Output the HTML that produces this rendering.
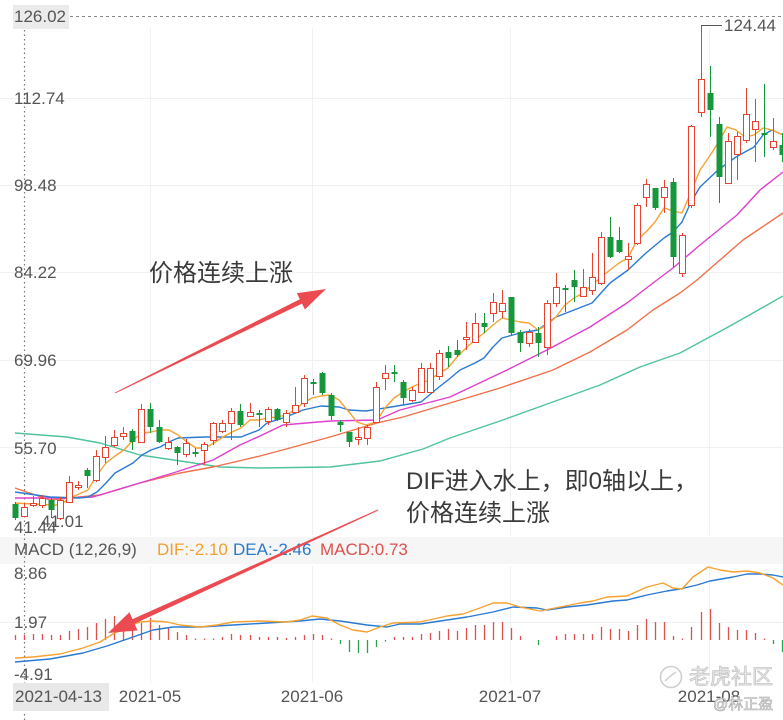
<!DOCTYPE html>
<html><head><meta charset="utf-8"><style>
html,body{margin:0;padding:0;background:#fff;}
svg{display:block;}
text{font-family:"Liberation Sans","Noto Sans CJK SC",sans-serif;}
</style></head><body>
<svg width="783" height="720" viewBox="0 0 783 720" xmlns="http://www.w3.org/2000/svg">
<rect width="783" height="720" fill="#fff"/>
<!-- grid -->
<g stroke="#f1f1f1" stroke-width="1">
<line x1="0" y1="98.5" x2="783" y2="98.5"/><line x1="0" y1="185.5" x2="783" y2="185.5"/>
<line x1="0" y1="272.5" x2="783" y2="272.5"/><line x1="0" y1="360.5" x2="783" y2="360.5"/>
<line x1="0" y1="447.5" x2="783" y2="447.5"/>
<line x1="0" y1="622.5" x2="783" y2="622.5"/>
<line x1="150.5" y1="28" x2="150.5" y2="535"/><line x1="312.5" y1="28" x2="312.5" y2="535"/>
<line x1="510.5" y1="28" x2="510.5" y2="535"/><line x1="709.5" y1="28" x2="709.5" y2="535"/>
<line x1="150.5" y1="566" x2="150.5" y2="683"/><line x1="312.5" y1="566" x2="312.5" y2="683"/>
<line x1="510.5" y1="566" x2="510.5" y2="683"/><line x1="709.5" y1="566" x2="709.5" y2="683"/>
</g>
<!-- MACD header band -->
<rect x="0" y="537" width="783" height="27" fill="#f6f6f6"/>
<!-- crosshair -->
<line x1="24.5" y1="30" x2="24.5" y2="720" stroke="#777" stroke-width="1.2" stroke-dasharray="1.5,3"/>
<line x1="70" y1="16.5" x2="783" y2="16.5" stroke="#888" stroke-width="1" stroke-dasharray="3,3"/>

<!-- moving averages -->
<g fill="none" stroke-width="1.4" stroke-linejoin="round">
<polyline stroke="#4fc49a" points="15,433 67,437 100,443 140,455 187,462 220,467 260,468 330,467 380,461 423,449 450,438 500,421 550,403 600,385 640,367 680,353 730,326 783,296"/>
<polyline stroke="#f0704a" points="15,488 50,500 100,495 140,483 180,473 213,467 260,456 290,448 330,437 377,423 403,417 450,403 500,388 553,370 590,352 627,330 653,310 680,293 697,280 743,240 783,213"/>
<polyline stroke="#e03fce" points="15,498 67,498 93,497 133,485 173,473 213,460 240,445 260,436 283,425 330,421 377,420 400,410 450,397 507,370 547,350 590,327 627,303 653,283 673,268 700,245 737,215 760,190 783,172"/>
<polyline stroke="#2a7ad2" points="15,492 50,497 79,498 88,497 97,492 106,483 115,473 133,463 142,455 151,450 160,447 169,442 178,438 205,437 241,437 259,430 267,423 286,417 303,410 321,406 339,407 349,410 366,411 385,408 403,405 421,402 439,387 448,380 460,370 475,363 484,358 493,347 502,338 520,333 538,330 556,317 574,310 592,303 610,283 628,270 646,253 664,238 673,232 682,222 691,202 700,187 718,170 736,157 754,147 763,135 772,130 783,135"/>
<polyline stroke="#f5a231" points="15,503 33,504 51,505 60,505 70,498 79,494 88,490 97,475 106,463 115,456 124,450 133,440 142,433 151,432 160,430 169,430 178,435 187,442 196,448 205,448 214,443 223,437 232,432 241,428 250,420 259,420 267,418 277,417 286,415 295,410 303,403 312,398 321,396 330,395 339,400 349,412 357,422 366,425 376,422 385,408 394,398 403,392 412,387 421,383 430,380 439,373 448,368 457,357 466,348 475,340 484,333 493,325 502,318 511,320 520,322 529,323 538,330 547,325 556,317 565,305 574,298 583,293 592,285 601,277 610,270 619,263 628,258 637,240 646,232 655,222 664,208 673,211 682,213 691,192 700,170 709,157 718,143 727,127 736,130 745,137 754,135 763,128 772,130 783,135"/>
</g>

<!-- candles: wicks -->
<g stroke-width="1" shape-rendering="crispEdges">
<g stroke="#17973c">
<line x1="15.5" y1="502" x2="15.5" y2="520"/><line x1="51.5" y1="497" x2="51.5" y2="518"/><line x1="87.5" y1="468" x2="87.5" y2="488"/><line x1="132.5" y1="429" x2="132.5" y2="450"/><line x1="150.5" y1="403" x2="150.5" y2="433"/><line x1="159.5" y1="420" x2="159.5" y2="443"/><line x1="177.5" y1="446" x2="177.5" y2="465"/><line x1="195.5" y1="448" x2="195.5" y2="457"/><line x1="240.5" y1="404" x2="240.5" y2="427"/><line x1="259.5" y1="410" x2="259.5" y2="427"/><line x1="277.5" y1="408" x2="277.5" y2="421"/><line x1="313.5" y1="379" x2="313.5" y2="395"/><line x1="322.5" y1="372" x2="322.5" y2="395"/><line x1="331.5" y1="393" x2="331.5" y2="420"/><line x1="340.5" y1="420" x2="340.5" y2="432"/><line x1="349.5" y1="432" x2="349.5" y2="447"/><line x1="394.5" y1="365" x2="394.5" y2="382"/><line x1="403.5" y1="380" x2="403.5" y2="405"/><line x1="448.5" y1="346" x2="448.5" y2="367"/><line x1="457.5" y1="340" x2="457.5" y2="357"/><line x1="484.5" y1="313" x2="484.5" y2="333"/><line x1="511.5" y1="297" x2="511.5" y2="335"/><line x1="520.5" y1="330" x2="520.5" y2="352"/><line x1="538.5" y1="327" x2="538.5" y2="357"/><line x1="565.5" y1="285" x2="565.5" y2="312"/><line x1="574.5" y1="270" x2="574.5" y2="302"/><line x1="610.5" y1="217" x2="610.5" y2="258"/><line x1="619.5" y1="227" x2="619.5" y2="253"/><line x1="655.5" y1="188" x2="655.5" y2="210"/><line x1="673.5" y1="178" x2="673.5" y2="267"/><line x1="710.5" y1="66" x2="710.5" y2="137"/><line x1="719.5" y1="117" x2="719.5" y2="203"/><line x1="764.5" y1="84" x2="764.5" y2="157"/><line x1="782.5" y1="133" x2="782.5" y2="162"/>
</g>
<g stroke="#e5432f">
<line x1="24.5" y1="503" x2="24.5" y2="517"/><line x1="33.5" y1="496" x2="33.5" y2="507"/><line x1="42.5" y1="495" x2="42.5" y2="508"/><line x1="60.5" y1="497" x2="60.5" y2="520"/><line x1="69.5" y1="476" x2="69.5" y2="503"/><line x1="78.5" y1="481" x2="78.5" y2="490"/><line x1="96.5" y1="450" x2="96.5" y2="482"/><line x1="105.5" y1="436" x2="105.5" y2="463"/><line x1="114.5" y1="430" x2="114.5" y2="447"/><line x1="123.5" y1="427" x2="123.5" y2="440"/><line x1="141.5" y1="404" x2="141.5" y2="443"/><line x1="168.5" y1="437" x2="168.5" y2="450"/><line x1="186.5" y1="439" x2="186.5" y2="457"/><line x1="204.5" y1="442" x2="204.5" y2="465"/><line x1="213.5" y1="422" x2="213.5" y2="445"/><line x1="222.5" y1="420" x2="222.5" y2="433"/><line x1="231.5" y1="408" x2="231.5" y2="440"/><line x1="250.5" y1="403" x2="250.5" y2="417"/><line x1="268.5" y1="407" x2="268.5" y2="425"/><line x1="286.5" y1="410" x2="286.5" y2="427"/><line x1="295.5" y1="387" x2="295.5" y2="413"/><line x1="304.5" y1="375" x2="304.5" y2="407"/><line x1="358.5" y1="427" x2="358.5" y2="445"/><line x1="367.5" y1="425" x2="367.5" y2="445"/><line x1="376.5" y1="382" x2="376.5" y2="423"/><line x1="385.5" y1="365" x2="385.5" y2="390"/><line x1="412.5" y1="387" x2="412.5" y2="402"/><line x1="421.5" y1="363" x2="421.5" y2="393"/><line x1="430.5" y1="363" x2="430.5" y2="393"/><line x1="439.5" y1="350" x2="439.5" y2="380"/><line x1="466.5" y1="322" x2="466.5" y2="350"/><line x1="475.5" y1="313" x2="475.5" y2="343"/><line x1="493.5" y1="293" x2="493.5" y2="322"/><line x1="502.5" y1="290" x2="502.5" y2="318"/><line x1="529.5" y1="329" x2="529.5" y2="347"/><line x1="547.5" y1="300" x2="547.5" y2="355"/><line x1="556.5" y1="273" x2="556.5" y2="307"/><line x1="583.5" y1="269" x2="583.5" y2="297"/><line x1="592.5" y1="253" x2="592.5" y2="295"/><line x1="601.5" y1="232" x2="601.5" y2="285"/><line x1="628.5" y1="243" x2="628.5" y2="270"/><line x1="637.5" y1="203" x2="637.5" y2="245"/><line x1="646.5" y1="179" x2="646.5" y2="207"/><line x1="664.5" y1="180" x2="664.5" y2="213"/><line x1="682.5" y1="233" x2="682.5" y2="277"/><line x1="691.5" y1="125" x2="691.5" y2="208"/><line x1="701.5" y1="25" x2="701.5" y2="117"/><line x1="728.5" y1="133" x2="728.5" y2="184"/><line x1="737.5" y1="132" x2="737.5" y2="180"/><line x1="746.5" y1="88" x2="746.5" y2="143"/><line x1="755.5" y1="99" x2="755.5" y2="162"/><line x1="773.5" y1="118" x2="773.5" y2="150"/>
</g>
</g>
<!-- candle bodies green -->
<g fill="#17973c" shape-rendering="crispEdges">
<rect x="12.5" y="504" width="6" height="14"/><rect x="48.5" y="500" width="6" height="10"/><rect x="84.5" y="470" width="6" height="6"/><rect x="129.5" y="431" width="6" height="11"/><rect x="147.5" y="409" width="6" height="18"/><rect x="156.5" y="427" width="6" height="15"/><rect x="174.5" y="447" width="6" height="6"/><rect x="192.5" y="452" width="6" height="2"/><rect x="237.5" y="411" width="6" height="14"/><rect x="256.5" y="413" width="6" height="2"/><rect x="274.5" y="409" width="6" height="11"/><rect x="310.5" y="382" width="6" height="2"/><rect x="319.5" y="373" width="6" height="20"/><rect x="328.5" y="395" width="6" height="21"/><rect x="337.5" y="422" width="6" height="3"/><rect x="346.5" y="432" width="6" height="10"/><rect x="391.5" y="372" width="6" height="2"/><rect x="400.5" y="382" width="6" height="16"/><rect x="445.5" y="352" width="6" height="6"/><rect x="454.5" y="350" width="6" height="5"/><rect x="481.5" y="323" width="6" height="4"/><rect x="508.5" y="297" width="6" height="36"/><rect x="517.5" y="332" width="6" height="11"/><rect x="535.5" y="333" width="6" height="10"/><rect x="562.5" y="288" width="6" height="2"/><rect x="571.5" y="280" width="6" height="7"/><rect x="607.5" y="237" width="6" height="20"/><rect x="616.5" y="240" width="6" height="12"/><rect x="652.5" y="188" width="6" height="20"/><rect x="670.5" y="182" width="6" height="75"/><rect x="707.5" y="93" width="6" height="17"/><rect x="716.5" y="124" width="6" height="53"/><rect x="761.5" y="133" width="6" height="2"/><rect x="779.5" y="145" width="6" height="10"/>
</g>
<!-- candle bodies red hollow -->
<g fill="#fff" stroke="#e5432f" stroke-width="1" shape-rendering="crispEdges" transform="translate(-0.5,0.5)">
<rect x="22" y="507" width="6" height="9"/><rect x="31" y="503" width="6" height="2"/><rect x="40" y="498" width="6" height="7"/><rect x="58" y="500" width="6" height="18"/><rect x="67" y="482" width="6" height="20"/><rect x="76" y="485" width="6" height="2"/><rect x="94" y="456" width="6" height="24"/><rect x="103" y="447" width="6" height="10"/><rect x="112" y="437" width="6" height="8"/><rect x="121" y="433" width="6" height="3"/><rect x="139" y="409" width="6" height="33"/><rect x="166" y="442" width="6" height="6"/><rect x="184" y="443" width="6" height="11"/><rect x="202" y="444" width="6" height="6"/><rect x="211" y="423" width="6" height="17"/><rect x="220" y="423" width="6" height="8"/><rect x="229" y="411" width="6" height="12"/><rect x="248" y="412" width="6" height="4"/><rect x="266" y="409" width="6" height="12"/><rect x="284" y="413" width="6" height="9"/><rect x="293" y="405" width="6" height="7"/><rect x="302" y="378" width="6" height="25"/><rect x="356" y="437" width="6" height="2"/><rect x="365" y="427" width="6" height="11"/><rect x="374" y="387" width="6" height="35"/><rect x="383" y="373" width="6" height="5"/><rect x="410" y="390" width="6" height="10"/><rect x="419" y="368" width="6" height="24"/><rect x="428" y="368" width="6" height="24"/><rect x="437" y="353" width="6" height="23"/><rect x="464" y="337" width="6" height="2"/><rect x="473" y="323" width="6" height="19"/><rect x="491" y="302" width="6" height="11"/><rect x="500" y="303" width="6" height="8"/><rect x="527" y="332" width="6" height="11"/><rect x="545" y="303" width="6" height="44"/><rect x="554" y="287" width="6" height="16"/><rect x="581" y="287" width="6" height="9"/><rect x="590" y="277" width="6" height="13"/><rect x="599" y="237" width="6" height="46"/><rect x="626" y="256" width="6" height="3"/><rect x="635" y="205" width="6" height="38"/><rect x="644" y="184" width="6" height="13"/><rect x="662" y="187" width="6" height="10"/><rect x="680" y="235" width="6" height="38"/><rect x="689" y="126" width="6" height="79"/><rect x="699" y="79" width="6" height="33"/><rect x="726" y="141" width="6" height="42"/><rect x="735" y="136" width="6" height="18"/><rect x="744" y="114" width="6" height="26"/><rect x="753" y="121" width="6" height="8"/><rect x="771" y="141" width="6" height="6"/>
</g>

<!-- max label -->
<polyline points="701.5,26 701.5,25.5 722,25.5" fill="none" stroke="#555" stroke-width="1"/>
<text x="724" y="31" font-size="17" fill="#555">124.44</text>

<!-- MACD histogram -->
<g stroke="#e05050" stroke-width="1.3">
<line x1="15.5" y1="640" x2="15.5" y2="635"/><line x1="24.5" y1="640" x2="24.5" y2="635"/><line x1="33.5" y1="640" x2="33.5" y2="634"/><line x1="42.5" y1="640" x2="42.5" y2="634"/><line x1="51.5" y1="640" x2="51.5" y2="635"/><line x1="60.5" y1="640" x2="60.5" y2="635"/><line x1="69.5" y1="640" x2="69.5" y2="631"/><line x1="78.5" y1="640" x2="78.5" y2="629"/><line x1="87.5" y1="640" x2="87.5" y2="627"/><line x1="96.5" y1="640" x2="96.5" y2="623"/><line x1="105.5" y1="640" x2="105.5" y2="619"/><line x1="114.5" y1="640" x2="114.5" y2="616"/><line x1="123.5" y1="640" x2="123.5" y2="620"/><line x1="132.5" y1="640" x2="132.5" y2="623"/><line x1="141.5" y1="640" x2="141.5" y2="623"/><line x1="150.5" y1="640" x2="150.5" y2="618"/><line x1="159.5" y1="640" x2="159.5" y2="625"/><line x1="168.5" y1="640" x2="168.5" y2="627"/><line x1="177.5" y1="640" x2="177.5" y2="632"/><line x1="186.5" y1="640" x2="186.5" y2="635"/><line x1="195.5" y1="640" x2="195.5" y2="638.5"/><line x1="204.5" y1="640" x2="204.5" y2="638.5"/><line x1="213.5" y1="640" x2="213.5" y2="638.5"/><line x1="222.5" y1="640" x2="222.5" y2="637"/><line x1="231.5" y1="640" x2="231.5" y2="634"/><line x1="240.5" y1="640" x2="240.5" y2="635"/><line x1="250.5" y1="640" x2="250.5" y2="635"/><line x1="259.5" y1="640" x2="259.5" y2="637"/><line x1="268.5" y1="640" x2="268.5" y2="637"/><line x1="277.5" y1="640" x2="277.5" y2="637"/><line x1="286.5" y1="640" x2="286.5" y2="638"/><line x1="295.5" y1="640" x2="295.5" y2="637"/><line x1="304.5" y1="640" x2="304.5" y2="635"/><line x1="313.5" y1="640" x2="313.5" y2="634"/><line x1="322.5" y1="640" x2="322.5" y2="635"/><line x1="331.5" y1="640" x2="331.5" y2="638.5"/><line x1="394.5" y1="640" x2="394.5" y2="637"/><line x1="403.5" y1="640" x2="403.5" y2="637"/><line x1="412.5" y1="640" x2="412.5" y2="637"/><line x1="421.5" y1="640" x2="421.5" y2="634"/><line x1="430.5" y1="640" x2="430.5" y2="633"/><line x1="439.5" y1="640" x2="439.5" y2="631"/><line x1="448.5" y1="640" x2="448.5" y2="629"/><line x1="457.5" y1="640" x2="457.5" y2="631"/><line x1="466.5" y1="640" x2="466.5" y2="628"/><line x1="475.5" y1="640" x2="475.5" y2="625"/><line x1="484.5" y1="640" x2="484.5" y2="625"/><line x1="493.5" y1="640" x2="493.5" y2="622"/><line x1="502.5" y1="640" x2="502.5" y2="622"/><line x1="511.5" y1="640" x2="511.5" y2="628"/><line x1="520.5" y1="640" x2="520.5" y2="636"/><line x1="556.5" y1="640" x2="556.5" y2="636"/><line x1="565.5" y1="640" x2="565.5" y2="634"/><line x1="574.5" y1="640" x2="574.5" y2="634"/><line x1="583.5" y1="640" x2="583.5" y2="634"/><line x1="592.5" y1="640" x2="592.5" y2="634"/><line x1="601.5" y1="640" x2="601.5" y2="627"/><line x1="610.5" y1="640" x2="610.5" y2="629"/><line x1="619.5" y1="640" x2="619.5" y2="629"/><line x1="628.5" y1="640" x2="628.5" y2="631"/><line x1="637.5" y1="640" x2="637.5" y2="625"/><line x1="646.5" y1="640" x2="646.5" y2="619"/><line x1="655.5" y1="640" x2="655.5" y2="622"/><line x1="664.5" y1="640" x2="664.5" y2="622"/><line x1="673.5" y1="640" x2="673.5" y2="636"/><line x1="682.5" y1="640" x2="682.5" y2="638.5"/><line x1="691.5" y1="640" x2="691.5" y2="627"/><line x1="701.5" y1="640" x2="701.5" y2="612"/><line x1="710.5" y1="640" x2="710.5" y2="609"/><line x1="719.5" y1="640" x2="719.5" y2="623"/><line x1="728.5" y1="640" x2="728.5" y2="627"/><line x1="737.5" y1="640" x2="737.5" y2="630"/><line x1="746.5" y1="640" x2="746.5" y2="630"/><line x1="755.5" y1="640" x2="755.5" y2="633"/><line x1="764.5" y1="640" x2="764.5" y2="638.5"/>
</g>
<g stroke="#2aa050" stroke-width="1.3">
<line x1="340.5" y1="640" x2="340.5" y2="644"/><line x1="349.5" y1="640" x2="349.5" y2="652"/><line x1="358.5" y1="640" x2="358.5" y2="653"/><line x1="367.5" y1="640" x2="367.5" y2="653"/><line x1="376.5" y1="640" x2="376.5" y2="647"/><line x1="385.5" y1="640" x2="385.5" y2="641.5"/><line x1="538.5" y1="640" x2="538.5" y2="645"/><line x1="773.5" y1="640" x2="773.5" y2="644"/><line x1="782.5" y1="640" x2="782.5" y2="652"/>
</g>
<!-- MACD lines -->
<g fill="none" stroke-width="1.4" stroke-linejoin="round">
<polyline stroke="#2a7ad2" points="15,662 50,659 83,653 107,646 133,637 153,630 173,627 200,627 233,625 267,623 300,621 320,619 340,621 367,625 387,627 400,624 420,624 447,620 467,617 493,612 513,607 537,608 547,610 567,607 587,605 613,601 627,600 647,595 667,591 680,589 697,585 710,581 733,577 747,574 760,574 773,575 783,577"/>
<polyline stroke="#f5a231" points="15,658 33,657 60,654 83,648 100,642 113,634 127,627 140,622 153,621 167,622 180,625 200,627 217,625 233,622 260,621 287,622 300,620 312,616 327,618 340,625 353,630 367,632 380,627 393,623 420,622 447,616 463,614 480,608 493,603 507,603 520,607 540,611 560,607 580,603 593,601 607,597 627,596 647,587 663,583 673,588 682,589 693,577 708,567 720,570 733,572 747,571 760,573 773,578 783,585"/>
</g>

<!-- axis labels -->
<rect x="13" y="5" width="56" height="24" fill="#ebebeb"/>
<g font-size="17" fill="#555">
<text x="14" y="22">126.02</text>
<text x="14" y="104">112.74</text>
<text x="14" y="191">98.48</text>
<text x="14" y="278">84.22</text>
<text x="14" y="366">69.96</text>
<text x="14" y="454">55.70</text>
<text x="14" y="533">41.44</text>
<text x="41" y="527">41.01</text>
<text x="14" y="555">MACD (12,26,9)</text>
<text x="157" y="555" fill="#f0a030">DIF:-2.10</text>
<text x="233" y="555" fill="#2a7ac8">DEA:-2.46</text>
<text x="320" y="555" fill="#d9534f">MACD:0.73</text>
<text x="14" y="579">8.86</text>
<text x="14" y="628">1.97</text>
<text x="14" y="680">-4.91</text>
</g>
<rect x="13" y="683" width="96" height="28" fill="#e8e8e8"/>
<g font-size="17" fill="#555">
<text x="15" y="702">2021-04-13</text>
<text x="150" y="702" text-anchor="middle">2021-05</text>
<text x="312" y="702" text-anchor="middle">2021-06</text>
<text x="510" y="702" text-anchor="middle">2021-07</text>
<text x="709" y="702" text-anchor="middle">2021-08</text>
</g>

<!-- arrows -->
<g fill="#eb4a50">
<polygon points="114.8,392.6 299.8,299.2 296.9,293.3 326,289 304.9,309.5 302,303.6 115.2,393.4"/>
<polygon points="377.8,509.5 132.5,619.1 129.4,612.3 108,633 137.6,630.5 134.5,623.7 378.2,510.5"/>
</g>

<!-- annotations -->
<g font-size="24" fill="#3a3a3a">
<text x="149" y="281">价格连续上涨</text>
<text x="406" y="489">DIF进入水上，即0轴以上，</text>
<text x="406" y="521">价格连续上涨</text>
</g>

<!-- watermark -->
<circle cx="671" cy="677" r="10.5" fill="none" stroke="#cfcfcf" stroke-width="1.6"/>
<path d="M665,681 Q670,676 676,672" fill="none" stroke="#cfcfcf" stroke-width="1.5"/>
<text x="689" y="684" font-size="21" fill="#eeeeee" stroke="#c4c4c4" stroke-width="0.8">老虎社区</text>
<text x="713" y="709" font-size="15" fill="#f0f0f0" stroke="#a8a8a8" stroke-width="0.6">@林正盈</text>
</svg>
</body></html>
